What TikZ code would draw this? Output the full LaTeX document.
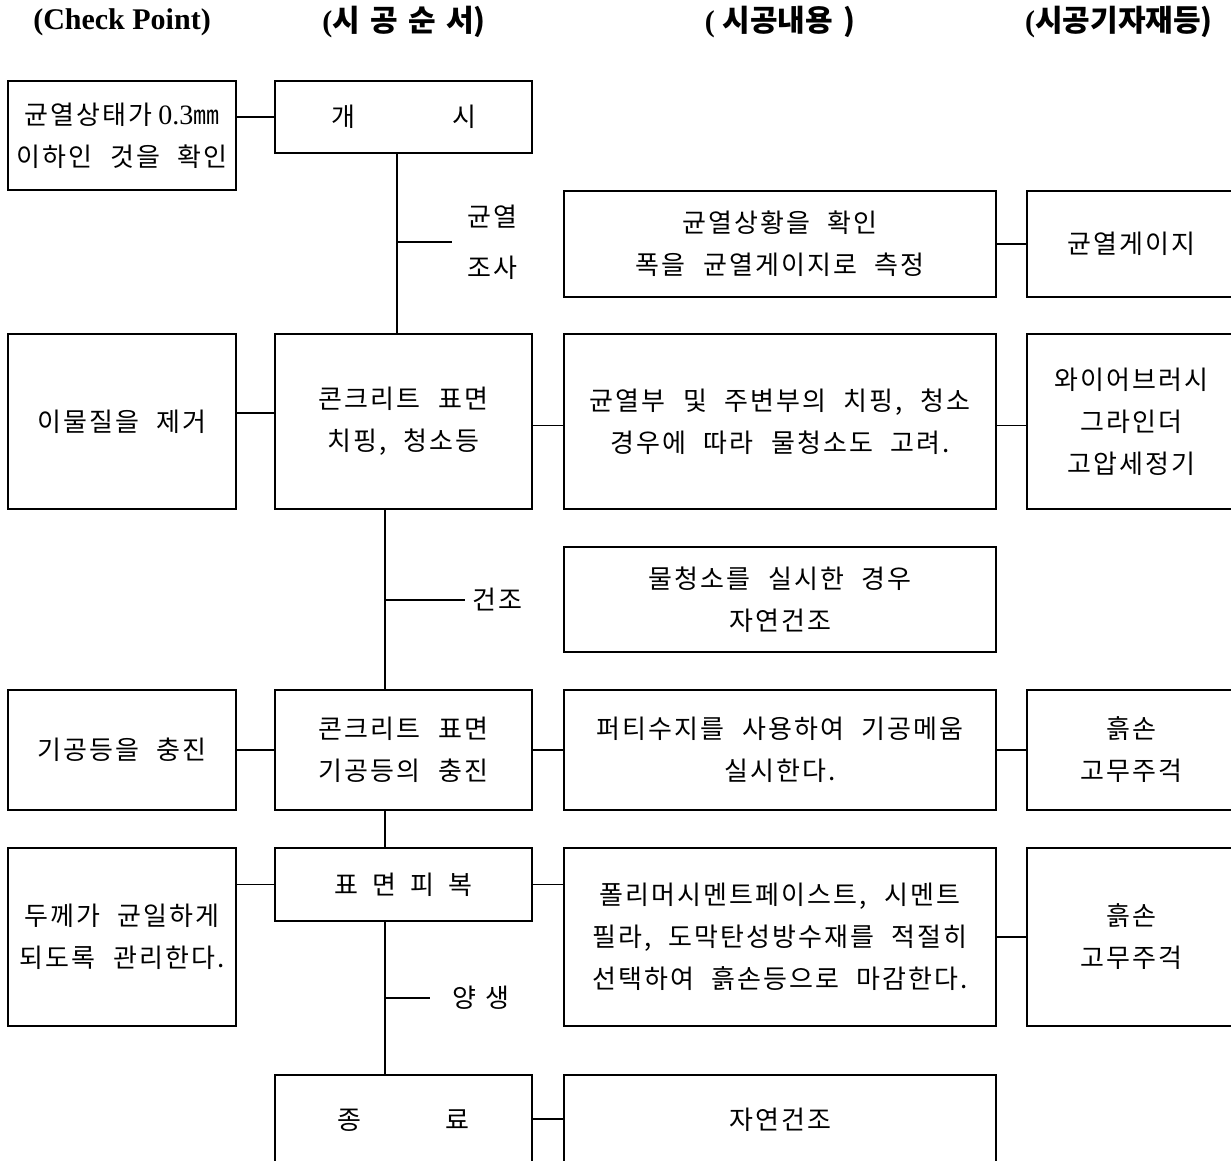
\documentclass[tikz,border=0pt]{standalone}
\usepackage{fontspec}
\setmainfont{Liberation Serif}
\newfontfamily\kr[LetterSpace=8,WordSpace=2.2]{Noto Sans CJK KR}
\newfontfamily\krh[LetterSpace=0,WordSpace=1.5]{Noto Sans CJK KR}
\tikzset{
  box/.style={draw, line width=1.1pt, align=center, inner sep=0pt,
    font=\kr\fontsize{26}{42}\selectfont},
  lbl/.style={align=center, inner sep=0pt, font=\kr\fontsize{26}{51}\selectfont},
  hdr/.style={inner sep=0pt, font=\fontsize{30}{34}\selectfont\bfseries},
  conn/.style={line width=1.1pt}
}
\begin{document}
\begin{tikzpicture}[x=1pt,y=-1pt]
\clip (0,0) rectangle (1231,1161);
\fill[white] (0,0) rectangle (1231,1161);
% headers
\node[hdr] (hcp) at (122,22) {(Check Point)};
\node[hdr] (hs) at (404,22) {(\krh 시 공 순 서)};
\node[hdr] (hc) at (780,22) {(\ \krh 시공내용\ )};
\node[hdr] (hm) at (1119,22) {(\krh 시공기자재등)};
% row 1
\node[box, minimum width=228, minimum height=109] (CP1) at (122,135.5) {균열상태가\hspace{6pt}{\rmfamily\fontsize{28}{42}\selectfont 0.3}㎜\\이하인 것을 확인};
\node[box, minimum width=257, minimum height=72] (S1) at (403.5,117) {개\hspace{97pt}시};
\node[box, minimum width=432, minimum height=106] (C1) at (780,244) {균열상황을 확인\\폭을 균열게이지로 측정};
\node[box, minimum width=209, minimum height=106] (M1) at (1131.5,244) {균열게이지};
% row 2
\node[box, minimum width=228, minimum height=175] (CP2) at (122,421.5) {이물질을 제거};
\node[box, minimum width=257, minimum height=175] (S2) at (403.5,421.5) {콘크리트 표면\\치핑, 청소등};
\node[box, minimum width=432, minimum height=175] (C2) at (780,421.5) {균열부 및 주변부의 치핑, 청소\\경우에 따라 물청소도 고려.};
\node[box, minimum width=209, minimum height=175] (M2) at (1131.5,421.5) {와이어브러시\\그라인더\\고압세정기};
% row 3
\node[box, minimum width=432, minimum height=105] (C3) at (780,599.5) {물청소를 실시한 경우\\자연건조};
% row 4
\node[box, minimum width=228, minimum height=120] (CP4) at (122,750) {기공등을 충진};
\node[box, minimum width=257, minimum height=120] (S4) at (403.5,750) {콘크리트 표면\\기공등의 충진};
\node[box, minimum width=432, minimum height=120] (C4) at (780,750) {퍼티수지를 사용하여 기공메움\\실시한다.};
\node[box, minimum width=209, minimum height=120] (M4) at (1131.5,750) {흙손\\고무주걱};
% row 5
\node[box, minimum width=228, minimum height=178] (CP5) at (122,937) {두께가 균일하게\\되도록 관리한다.};
\node[box, minimum width=257, minimum height=73] (S5) at (403.5,884.5) {표\hspace{14pt}면\hspace{14pt}피\hspace{14pt}복};
\node[box, minimum width=432, minimum height=178] (C5) at (780,937) {폴리머시멘트페이스트, 시멘트\\필라, 도막탄성방수재를 적절히\\선택하여 흙손등으로 마감한다.};
\node[box, minimum width=209, minimum height=178] (M5) at (1131.5,937) {흙손\\고무주걱};
% row 6
\node[box, minimum width=257, minimum height=90] (S6) at (403.5,1120) {종\hspace{84pt}료};
\node[box, minimum width=432, minimum height=90] (C6) at (780,1120) {자연건조};
% labels
\node[lbl] (L1) at (492,242) {균열\\조사};
\node[lbl] (L2) at (497,600) {건조};
\node[lbl] (L3) at (481,998) {양\hspace{10pt}생};
% coordinates
\coordinate (v1) at (397,0);
\coordinate (v2) at (385,0);
\coordinate (b1) at (452,242);
\coordinate (b2) at (465,600);
\coordinate (b3) at (430,998);
% connectors
\draw[conn] (CP1.east |- S1.west) -- (S1.west);
\draw[conn] (C1.east) -- (M1.west);
\draw[conn] (S1.south -| v1) -- (S2.north -| v1);
\draw[conn] (b1 -| v1) -- (b1);
\draw[conn] ([yshift=8.5pt]CP2.east) -- ([yshift=8.5pt]S2.west);
\draw[conn] ([yshift=-4pt]S2.east) -- ([yshift=-4pt]C2.west);
\draw[conn] ([yshift=-4pt]C2.east) -- ([yshift=-4pt]M2.west);
\draw[conn] (S2.south -| v2) -- (S4.north -| v2);
\draw[conn] (b2 -| v2) -- (b2);
\draw[conn] (CP4.east) -- (S4.west);
\draw[conn] (S4.east) -- (C4.west);
\draw[conn] (C4.east) -- (M4.west);
\draw[conn] (S4.south -| v2) -- (S5.north -| v2);
\draw[conn] (CP5.east |- S5.west) -- (S5.west);
\draw[conn] (S5.east) -- (S5.east -| C5.west);
\draw[conn] (C5.east) -- (M5.west);
\draw[conn] (S5.south -| v2) -- (S6.north -| v2);
\draw[conn] (b3 -| v2) -- (b3);
\draw[conn] ([yshift=1pt]S6.east) -- ([yshift=1pt]C6.west);
\end{tikzpicture}
\end{document}
